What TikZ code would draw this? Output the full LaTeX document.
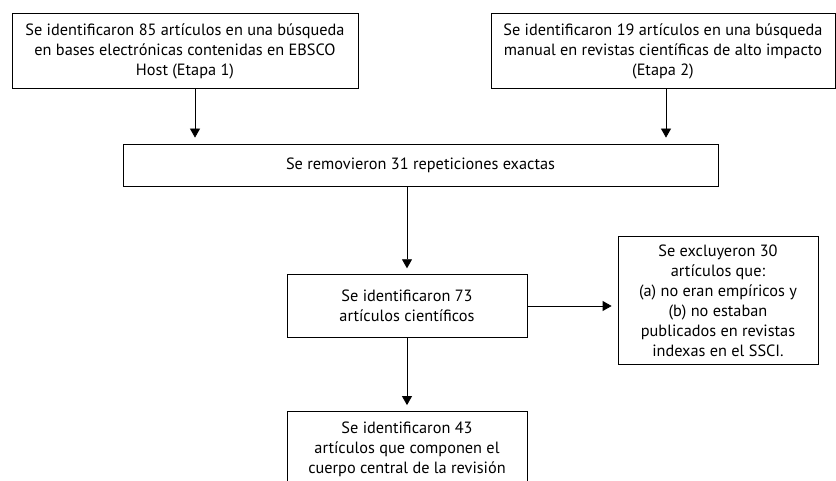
\documentclass[tikz,border=0pt]{standalone}
\usepackage{fontspec}
\setmainfont{PT Sans}
\usetikzlibrary{arrows.meta, positioning}

\begin{document}
\begin{tikzpicture}[x=1pt, y=-1pt,
  every node/.style={font=\fontsize{16.3}{20}\selectfont},
  box/.style={draw, line width=0.8pt, align=center, inner sep=0pt},
  flow/.style={-{Triangle[length=9pt, width=10pt]}, line width=0.8pt, shorten >=6pt},
]
\useasboundingbox (0,0) rectangle (836,481);

% search stages
\node[box, minimum width=346pt, minimum height=75pt, text depth=2pt] (ebsco) at (185,50.5)
  {Se identificaron 85 artículos en una búsqueda\\ en bases electrónicas contenidas en EBSCO\\ Host (Etapa 1)};
\node[box, minimum width=344pt, minimum height=75pt, text depth=2pt] (manual) at (663,50.5)
  {Se identificaron 19 artículos en una búsqueda\\ manual en revistas científicas de alto impacto\\ (Etapa 2)};

% filtering
\node[box, minimum width=595pt, minimum height=42pt] (repeats) at (420.5,165)
  {Se removieron 31 repeticiones exactas};
\node[box, minimum width=240pt, minimum height=62.6pt] (found) at (407,306)
  {Se identificaron 73\\ artículos científicos};
\node[box, minimum width=200pt, minimum height=128pt] (excluded) at (718,300.8)
  {Se excluyeron 30\\ artículos que:\\ (a) no eran empíricos y\\ (b) no estaban\\ publicados en revistas\\ indexas en el SSCI.};
\node[box, minimum width=240pt, minimum height=75pt] (final) at (407,449)
  {Se identificaron 43\\ artículos que componen el\\ cuerpo central de la revisión};

% arrows
\draw[flow] ([xshift=10pt]ebsco.south) -- ([xshift=10pt]ebsco.south |- repeats.north);
\draw[flow] ([xshift=3pt]manual.south) -- ([xshift=3pt]manual.south |- repeats.north);
\draw[flow] (repeats.south -| found.north) -- (found.north);
\draw[flow] (found.east) -- (found.east -| excluded.west);
\draw[flow] (found.south) -- (final.north);
\end{tikzpicture}
\end{document}
